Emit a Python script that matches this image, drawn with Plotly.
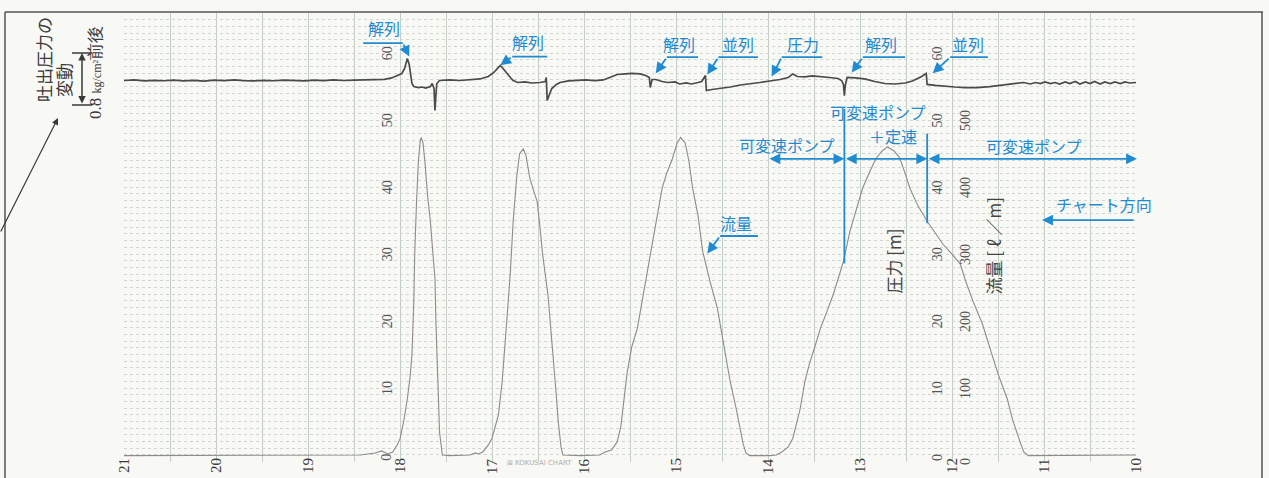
import plotly.graph_objects as go

# ---- recorded traces (position along chart paper, value) ----
pressure_pos = [21.00, 20.89, 20.78, 20.67, 20.57, 20.46, 20.35, 20.24, 20.13, 20.02,
                19.91, 19.80, 19.70, 19.59, 19.48, 19.37, 19.26, 19.15, 19.04, 18.93,
                18.83, 18.72, 18.61, 18.50, 18.39, 18.28, 18.17, 18.09, 18.02, 17.98,
                17.95, 17.92, 17.90, 17.89, 17.87, 17.85, 17.80, 17.76, 17.72, 17.67,
                17.65, 17.63, 17.62, 17.61, 17.60, 17.57, 17.46, 17.35, 17.24, 17.13,
                17.04, 16.98, 16.93, 16.91, 16.88, 16.84, 16.80, 16.77, 16.72, 16.64,
                16.57, 16.48, 16.42, 16.41, 16.40, 16.38, 16.35, 16.30, 16.26, 16.17,
                16.08, 15.98, 15.88, 15.79, 15.72, 15.64, 15.55, 15.48, 15.39, 15.33,
                15.29, 15.28, 15.26, 15.22, 15.15, 15.09, 15.01, 14.96, 14.89, 14.83,
                14.76, 14.72, 14.68, 14.67, 14.61, 14.52, 14.41, 14.30, 14.20, 14.09,
                13.98, 13.87, 13.78, 13.73, 13.68, 13.60, 13.52, 13.43, 13.33, 13.24,
                13.20, 13.18, 13.17, 13.16, 13.14, 13.05, 12.95, 12.84, 12.73, 12.62,
                12.51, 12.43, 12.37, 12.33, 12.28, 12.27, 12.18, 12.08, 11.97, 11.86,
                11.73, 11.59, 11.48, 11.37, 11.29, 11.22, 11.15, 11.09, 11.04, 10.99,
                10.93, 10.88, 10.83, 10.77, 10.72, 10.66, 10.61, 10.55, 10.50, 10.45,
                10.39, 10.34, 10.28, 10.23, 10.17, 10.12, 10.07, 10.00]
pressure_m = [55.92, 56.00, 55.85, 55.95, 55.88, 55.98, 55.86, 55.94, 55.83, 55.97,
              55.89, 56.00, 55.91, 55.85, 55.95, 55.88, 55.98, 55.92, 55.86, 55.97,
              55.89, 56.01, 55.92, 55.98, 56.04, 56.00, 56.10, 56.30, 56.67, 56.97,
              57.72, 59.22, 58.32, 57.42, 55.47, 55.02, 54.87, 54.95, 54.80, 55.02,
              55.47, 54.72, 51.43, 53.67, 55.47, 55.92, 56.00, 55.92, 56.03, 56.15,
              56.52, 57.12, 57.87, 58.17, 57.72, 56.97, 56.37, 55.92, 55.62, 55.70,
              55.55, 55.62, 55.77, 56.37, 52.93, 53.67, 54.72, 55.33, 55.62, 55.85,
              55.92, 56.00, 55.89, 56.00, 56.37, 56.82, 56.90, 56.97, 56.90, 56.67,
              56.37, 54.87, 56.07, 56.07, 55.77, 55.62, 55.70, 55.40, 55.55, 55.40,
              55.62, 55.77, 56.67, 54.43, 54.58, 54.72, 54.95, 55.25, 55.40, 55.62,
              55.85, 56.07, 56.37, 56.90, 56.52, 56.45, 56.60, 56.52, 56.37, 56.22,
              55.92, 55.33, 53.67, 55.18, 56.37, 56.30, 56.15, 55.77, 55.47, 55.40,
              55.55, 55.85, 56.22, 56.52, 56.97, 55.33, 55.18, 55.02, 54.95, 54.87,
              54.87, 55.02, 55.18, 55.33, 55.47, 55.62, 55.40, 55.62, 55.47, 55.70,
              55.47, 55.62, 55.40, 55.70, 55.47, 55.77, 55.40, 55.70, 55.47, 55.77,
              55.40, 55.70, 55.47, 55.70, 55.47, 55.70, 55.55, 55.62]

flow_pos = [21.00, 20.17, 19.09, 18.43, 18.27, 18.20, 18.13, 18.08, 18.03, 18.00,
            17.96, 17.92, 17.89, 17.87, 17.85, 17.84, 17.82, 17.80, 17.78, 17.77,
            17.75, 17.73, 17.70, 17.67, 17.64, 17.62, 17.61, 17.59, 17.57, 17.54,
            17.46, 17.24, 17.18, 17.15, 17.10, 17.04, 17.00, 16.93, 16.89, 16.84,
            16.80, 16.77, 16.73, 16.70, 16.66, 16.63, 16.59, 16.54, 16.51, 16.48,
            16.45, 16.39, 16.35, 16.30, 16.28, 16.25, 16.23, 16.04, 15.83, 15.77,
            15.70, 15.64, 15.60, 15.57, 15.53, 15.48, 15.42, 15.35, 15.28, 15.22,
            15.15, 15.10, 15.04, 14.99, 14.95, 14.90, 14.86, 14.82, 14.76, 14.71,
            14.63, 14.55, 14.48, 14.41, 14.35, 14.30, 14.27, 14.24, 14.20, 13.98,
            13.91, 13.85, 13.78, 13.73, 13.65, 13.60, 13.55, 13.49, 13.43, 13.36,
            13.29, 13.24, 13.18, 13.11, 13.03, 12.97, 12.89, 12.83, 12.76, 12.70,
            12.63, 12.57, 12.51, 12.46, 12.37, 12.27, 12.18, 12.10, 12.00, 11.91,
            11.85, 11.77, 11.67, 11.59, 11.50, 11.40, 11.34, 11.26, 11.22, 11.17,
            10.83, 10.39, 10.00]
flow_lpm = [-1, -1, -0.5, 0, 3, 6, 1.5, 4.5, 15, 24,
            50, 84, 117, 150, 229, 300, 379, 439, 469, 474,
            466, 439, 387, 349, 297, 264, 199, 99, 34, 0,
            -1, 0, 3, 1.5, 4.5, 15, 25, 60, 109, 199,
            274, 349, 417, 450, 457, 447, 414, 391, 379, 342,
            300, 237, 174, 87, 50, 12, 0, -1, 0, 4.5,
            7.5, 19.5, 42, 79, 124, 162, 189, 244, 300, 349,
            399, 421, 442, 465, 474, 466, 439, 399, 357, 304,
            259, 219, 162, 109, 72, 39, 16.5, 3, -1, -1,
            0, 4.5, 12, 25, 69, 109, 136, 162, 189, 214,
            240, 262, 289, 334, 372, 399, 424, 442, 454, 460,
            454, 444, 421, 399, 372, 349, 331, 315, 300, 285,
            259, 229, 196, 159, 121, 84, 52, 19.5, 4.5, -1,
            -1, 0, 0]

# ---- printed scales ----
div_labels = [21, 20, 19, 18, 17, 16, 15, 14, 13, 12, 11, 10]
pressure_ticks = [0, 10, 20, 30, 40, 50, 60]
flow_ticks = [0, 100, 200, 300, 400, 500]

BLUE = "#1f8bd0"
INK = "#3a3a3a"
SERIF = "Liberation Serif"
JP = "Noto Sans CJK JP"

# plot-area geometry (px) used for margin annotations
L, R, T, B = 124, 133, 13, 16
W, H = 1269, 478
PW, PH = W - L - R, H - T - B


def px_x(px):
    return (px - L) / PW


def px_y(py):
    return (H - B - py) / PH


def label(**kw):
    kw.setdefault("showarrow", False)
    kw.setdefault("xanchor", "center")
    kw.setdefault("yanchor", "middle")
    return kw


fig = go.Figure()
fig.add_trace(go.Scatter(x=flow_pos, y=flow_lpm, mode="lines", yaxis="y2",
                         line=dict(color="#8c8c8c", width=1.1), hoverinfo="skip"))
fig.add_trace(go.Scatter(x=pressure_pos, y=pressure_m, mode="lines",
                         line=dict(color="#4b4b4b", width=1.7), hoverinfo="skip"))

ann = []
shapes = []

# bottom division numbers
for v in div_labels:
    ann.append(label(x=v, xref="x", y=px_y(466), yref="paper", text=str(v),
                     textangle=-90, font=dict(family=SERIF, size=15, color=INK)))

# scale numbers printed on the paper
for col in (18.14, 12.16):
    for v in pressure_ticks:
        ann.append(label(x=col, y=v - (0.4 if v == 0 else 0), xref="x", yref="y",
                         text=str(v), textangle=-90,
                         font=dict(family=SERIF, size=14, color="#555")))
for v in flow_ticks:
    ann.append(label(x=11.86, y=v / 10 - (0.9 if v == 0 else 0), xref="x", yref="y",
                     text=str(v), textangle=-90,
                     font=dict(family=SERIF, size=14, color="#555")))

# axis titles
ann.append(label(x=12.64, y=28.9, xref="x", yref="y", text="圧力 [m]", textangle=-90,
                 font=dict(family=JP, size=17, color="#444")))
ann.append(label(x=11.55, y=31.2, xref="x", yref="y", text="流量 [ ℓ ／m]", textangle=-90,
                 font=dict(family=JP, size=17, color="#444")))

# paper maker mark
ann.append(label(x=16.48, y=px_y(463), xref="x", yref="paper", text="⊠ KOKUSAI CHART",
                 font=dict(family="DejaVu Sans", size=7, color="#b0b0b0")))

# switching events on the pressure trace
events = [
    ("解列", 18.17, 63.7, 18.40, 17.97, 61.5, 17.90, 59.5),
    ("解列", 16.61, 61.6, 16.40, 16.78, 59.5, 16.91, 58.2),
    ("解列", 14.97, 61.3, 14.76, 15.10, 59.4, 15.22, 57.0),
    ("並列", 14.33, 61.3, 14.11, 14.54, 59.4, 14.66, 56.8),
    ("圧力", 13.62, 61.3, 13.41, 13.85, 59.4, 13.96, 56.5),
    ("解列", 12.77, 61.3, 12.51, 12.97, 59.4, 13.09, 57.1),
    ("並列", 11.83, 61.3, 11.61, 12.02, 59.4, 12.21, 57.0),
    ("流量", 14.35, 34.6, 14.11, 14.52, 32.7, 14.66, 30.1),
]
for text, tx, ty, lx0, lx1, ly, ax_, ay_ in events:
    ann.append(label(x=tx, y=ty, xref="x", yref="y", text=text,
                     font=dict(family=JP, size=16, color=BLUE)))
    shapes.append(dict(type="line", xref="x", yref="y", x0=lx0, x1=lx1, y0=ly, y1=ly,
                       line=dict(color=BLUE, width=1.8)))
    ann.append(dict(x=ax_, y=ay_, xref="x", yref="y", ax=lx1, ay=ly, axref="x", ayref="y",
                    text="", showarrow=True, arrowhead=2, arrowsize=1.2, arrowwidth=1.8,
                    arrowcolor=BLUE, standoff=0))

# pump operating modes
mode_y = 44.23
for x0, x1 in [(14.00, 13.17), (13.17, 12.27), (12.27, 9.99)]:
    ann.append(dict(x=x1, y=mode_y, ax=x0, ay=mode_y, xref="x", yref="y", axref="x",
                    ayref="y", text="", showarrow=True, arrowside="end+start",
                    arrowhead=2, arrowsize=1.2, arrowwidth=1.8, arrowcolor=BLUE,
                    standoff=0, startstandoff=0))
for x, y0, y1 in [(13.17, 51.7, 28.6), (12.27, 48.0, 34.6)]:
    shapes.append(dict(type="line", xref="x", yref="y", x0=x, x1=x, y0=y0, y1=y1,
                       line=dict(color=BLUE, width=1.8)))
for text, tx, ty in [("可変速ポンプ", 13.79, 46.3), ("可変速ポンプ", 12.80, 51.2),
                     ("＋定速", 12.64, 47.6), ("可変速ポンプ", 11.11, 46.2),
                     ("チャート方向", 10.35, 37.5)]:
    ann.append(label(x=tx, y=ty, xref="x", yref="y", text=text,
                     font=dict(family=JP, size=16, color=BLUE)))
ann.append(dict(x=11.02, y=35.08, ax=10.01, ay=35.08, xref="x", yref="y", axref="x",
                ayref="y", text="", showarrow=True, arrowhead=2, arrowsize=1.2,
                arrowwidth=1.8, arrowcolor=BLUE, standoff=0))

# note in the left margin about discharge pressure fluctuation
ann.append(label(x=px_x(43), y=px_y(60), xref="paper", yref="paper", text="吐出圧力の",
                 textangle=-90, font=dict(family=JP, size=17, color=INK)))
ann.append(label(x=px_x(63), y=px_y(80), xref="paper", yref="paper", text="変動",
                 textangle=-90, font=dict(family=JP, size=17, color=INK)))
ann.append(label(x=px_x(96), y=px_y(73), xref="paper", yref="paper",
                 text="0.8 <span style='font-size:12px'>kg/cm²</span>前後",
                 textangle=-90, font=dict(family=SERIF, size=17, color=INK)))
ann.append(dict(x=px_x(82), y=px_y(53), xref="paper", yref="paper", ax=0, ay=52,
                text="", showarrow=True, arrowside="end+start", arrowhead=2,
                arrowsize=1, arrowwidth=1.5, arrowcolor=INK, standoff=0, startstandoff=0))
for py in (53, 105):
    shapes.append(dict(type="line", xref="paper", yref="paper", x0=px_x(72), x1=px_x(92),
                       y0=px_y(py), y1=px_y(py), line=dict(color=INK, width=1.5)))
ann.append(dict(x=px_x(58), y=px_y(118), xref="paper", yref="paper", ax=-58, ay=115,
                text="", showarrow=True, arrowhead=2, arrowsize=1.1, arrowwidth=1.2,
                arrowcolor=INK, standoff=0))

# sheet border
frame = dict(color="#555", width=1.5)
shapes += [
    dict(type="line", xref="paper", yref="paper", x0=px_x(5), x1=px_x(1263),
         y0=px_y(12), y1=px_y(12), line=frame),
    dict(type="line", xref="paper", yref="paper", x0=px_x(5), x1=px_x(5),
         y0=px_y(12), y1=px_y(480), line=frame),
    dict(type="line", xref="paper", yref="paper", x0=px_x(1262), x1=px_x(1262),
         y0=px_y(12), y1=px_y(480), line=frame),
]

fig.update_layout(
    width=W, height=H, autosize=False,
    margin=dict(l=L, r=R, t=T, b=B, pad=0),
    paper_bgcolor="#f8f8f5", plot_bgcolor="#f8f8f5",
    showlegend=False,
    xaxis=dict(range=[21, 10], dtick=0.5, tick0=10, showticklabels=False,
               showgrid=True, gridcolor="#c2cfc5", gridwidth=1, zeroline=False,
               showline=False, ticks=""),
    yaxis=dict(range=[-1.05, 66.0], dtick=1, tick0=0, showticklabels=False,
               showgrid=True, gridcolor="#d0d5d0", gridwidth=1, griddash="dot",
               zeroline=False, showline=False, ticks=""),
    yaxis2=dict(range=[-10.5, 660.0], overlaying="y", showticklabels=False,
                showgrid=False, zeroline=False, showline=False, ticks=""),
    annotations=ann,
    shapes=shapes,
)

fig.write_html("out.html")
